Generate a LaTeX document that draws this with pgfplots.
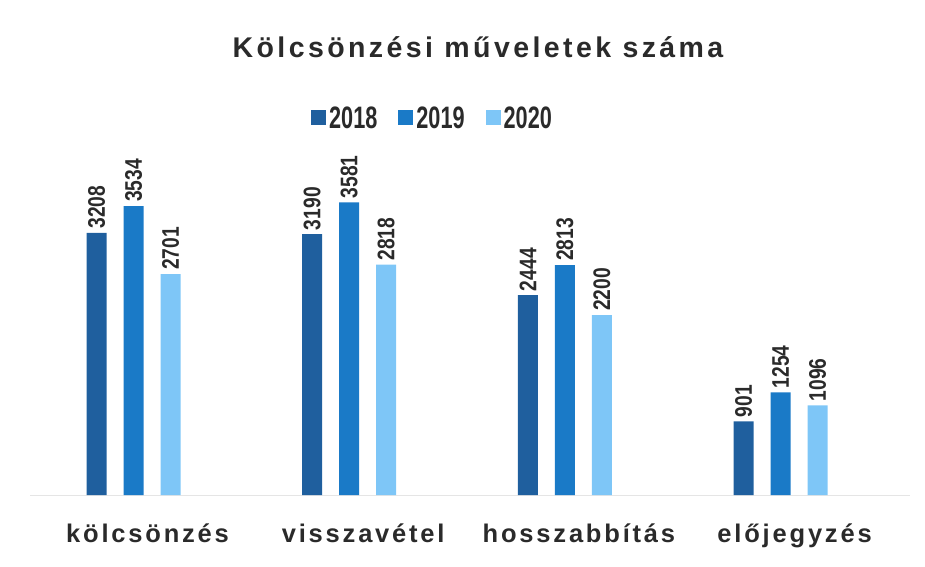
\documentclass[border=0pt]{standalone}
\usepackage{fontspec}
\usepackage{pgfplots}
\pgfplotsset{compat=1.18}
\setmainfont{Liberation Sans}
\newfontfamily\narrowfont{Liberation Sans}[FakeStretch=0.8]
\newfontfamily\legendfont{Liberation Sans}[FakeStretch=0.7]
\newfontfamily\spacedfont{Liberation Sans}[LetterSpace=11]
\newfontfamily\titlefont{Liberation Sans}[LetterSpace=12]

\definecolor{c2018}{HTML}{1F5F9E}
\definecolor{c2019}{HTML}{1A7AC7}
\definecolor{c2020}{HTML}{7EC6F7}
\definecolor{txt}{HTML}{2A2A2A}

\begin{document}
\begin{tikzpicture}[x=1pt,y=1pt]
\useasboundingbox (0,0) rectangle (925,566);
\node[anchor=base, text=txt, font=\titlefont\bfseries\fontsize{28.5}{30}\selectfont] at (478,508) {Kölcsönzési műveletek száma};
\begin{axis}[
    at={(30pt,71pt)}, anchor=south west,
    scale only axis,
    width=880pt, height=327pt,
    ybar=17pt, bar width=20pt,
    xmin=-0.48, xmax=3.6,
    ymin=0, ymax=4000,
    xtick={0,1,2,3},
    xticklabels={kölcsönzés,visszavétel,hosszabbítás,előjegyzés},
    xticklabel style={anchor=base, yshift=-47pt, xshift=14pt, text=txt,
        font=\spacedfont\bfseries\fontsize{25.5}{27}\selectfont},
    major tick length=0pt,
    axis x line*=bottom,
    axis line style={gray!20, line width=0.8pt},
    hide y axis,
    nodes near coords,
    /pgf/number format/1000 sep={},
    /pgf/number format/assume math mode=true,
    every node near coord/.append style={rotate=90, anchor=west, inner sep=4pt,
        text=txt, font=\narrowfont\bfseries\fontsize{24}{26}\selectfont},
    legend columns=3,
    legend style={draw=none, fill=none, at={(0.458,1.153)}, anchor=center,
        font=\legendfont\bfseries\fontsize{31}{33}\selectfont, text=txt,
        nodes={inner sep=3pt},
        /tikz/every even column/.append style={column sep=18pt}},
    legend image code/.code={\fill[#1] (0pt,-7.5pt) rectangle (15pt,7.5pt);},
]
\addplot[fill=c2018, draw=none] coordinates {(0,3208) (1,3190) (2,2444) (3,901)};
\addplot[fill=c2019, draw=none] coordinates {(0,3534) (1,3581) (2,2813) (3,1254)};
\addplot[fill=c2020, draw=none] coordinates {(0,2701) (1,2818) (2,2200) (3,1096)};
\legend{2018,2019,2020}
\end{axis}
\end{tikzpicture}
\end{document}
